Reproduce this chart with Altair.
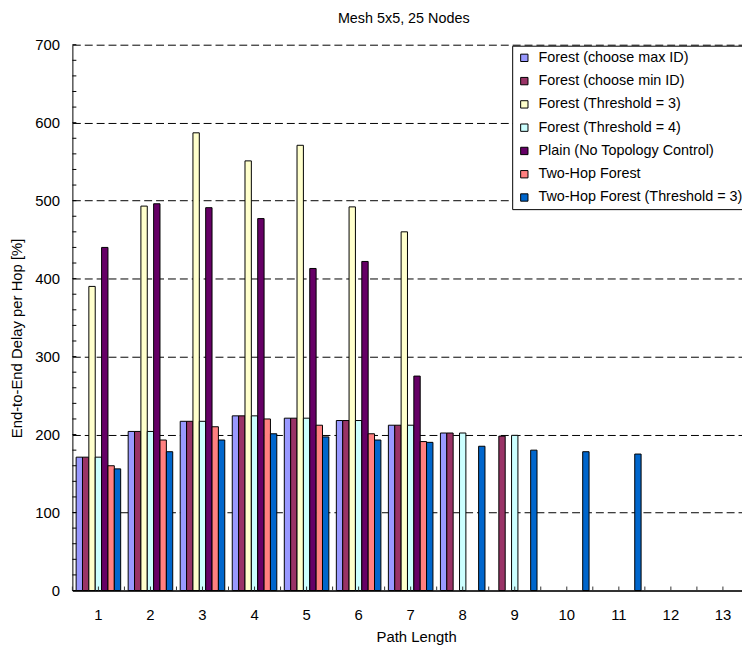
import altair as alt
import pandas as pd

# ---- data ----
path_lengths = [1, 2, 3, 4, 5, 6, 7, 8, 9, 10, 11, 12, 13]

series_names = [
    "Forest (choose max ID)",
    "Forest (choose min ID)",
    "Forest (Threshold = 3)",
    "Forest (Threshold = 4)",
    "Plain (No Topology Control)",
    "Two-Hop Forest",
    "Two-Hop Forest (Threshold = 3)",
]
series_colors = ["#9999FF", "#993366", "#FFFFCC", "#CCFFFF", "#660066", "#FF8080", "#0066CC"]

forest_max_id = [171, 204, 217, 224, 221, 218, 212, 202, None, None, None, None, None]
forest_min_id = [171, 204, 217, 224, 221, 218, 212, 202, 198, None, None, None, None]
forest_thr3 = [390, 493, 587, 551, 571, 492, 460, None, None, None, None, None, None]
forest_thr4 = [171, 204, 217, 224, 221, 218, 212, 202, 199, None, None, None, None]
plain = [440, 496, 491, 477, 413, 422, 275, None, None, None, None, None, None]
two_hop = [160, 193, 210, 220, 212, 201, 191, None, None, None, None, None, None]
two_hop_thr3 = [156, 178, 193, 201, 197, 193, 190, 185, 180, 178, 175, None, None]

y_label_values = [0, 100, 200, 300, 400, 500, 600, 700]
y_minor_ticks = list(range(0, 701, 20))

series_values = [forest_max_id, forest_min_id, forest_thr3, forest_thr4, plain, two_hop, two_hop_thr3]

rows = []
for name, vals in zip(series_names, series_values):
    for pl, v in zip(path_lengths, vals):
        if v is not None:
            rows.append({"len": pl, "series": name, "delay": v})
df = pd.DataFrame(rows)

FONT = "Liberation Sans"

x_scale = alt.Scale(domain=path_lengths, paddingInner=0, paddingOuter=0)
y_scale = alt.Scale(domain=[0, 700], nice=False)

x_axis = alt.Axis(
    title="Path Length",
    labelAngle=0,
    ticks=False,
    tickSize=0,
    grid=False,
    labelPadding=17,
    labelFontSize=15,
    labelColor="black",
    domainColor="#333333",
    domainWidth=2,
    titleFontSize=15,
    titleFontWeight="normal",
    titleColor="black",
    titlePadding=7,
    titleX=347,
)
y_axis = alt.Axis(
    values=y_label_values,
    title="End-to-End Delay per Hop [%]",
    grid=True,
    gridDash=[8, 4],
    gridColor="black",
    gridWidth=1,
    ticks=False,
    tickSize=0,
    labelPadding=13,
    labelFontSize=15,
    labelColor="black",
    domainColor="black",
    titleFontSize=15,
    titleFontWeight="normal",
    titleColor="black",
    titleX=-56,
    titleY=296,
    titleBaseline="middle",
    titleAngle=270,
)

bars = alt.Chart(df).mark_bar(stroke="black", strokeWidth=1).encode(
    x=alt.X("len:O", scale=x_scale, axis=x_axis),
    xOffset=alt.XOffset(
        "series:N",
        sort=series_names,
        scale=alt.Scale(domain=series_names, paddingInner=0, paddingOuter=0.588),
    ),
    y=alt.Y("delay:Q", scale=y_scale, axis=y_axis),
    color=alt.Color(
        "series:N",
        sort=series_names,
        scale=alt.Scale(domain=series_names, range=series_colors),
        legend=alt.Legend(
            title=None,
            orient="none",
            legendX=444,
            legendY=1,
            direction="vertical",
            fillColor="white",
            strokeColor="black",
            padding=5,
            symbolType="square",
            symbolSize=55,
            symbolStrokeColor="black",
            symbolStrokeWidth=1,
            labelFontSize=14.5,
            labelColor="black",
            labelLimit=400,
            rowPadding=8.5,
            labelOffset=7,
        ),
    ),
)

tick_df = pd.DataFrame({"len": path_lengths})
x_ticks_center = alt.Chart(tick_df).mark_rule(color="#333333").encode(
    x=alt.X("len:O", bandPosition=0.5, scale=x_scale, axis=x_axis),
    y=alt.value(547),
    y2=alt.value(551),
)
x_ticks_edge = alt.Chart(tick_df).mark_rule(color="#333333").encode(
    x=alt.X("len:O", bandPosition=0, scale=x_scale, axis=x_axis),
    y=alt.value(547),
    y2=alt.value(551),
)

ytick_df = pd.DataFrame({"delay": y_minor_ticks})
y_ticks = alt.Chart(ytick_df).mark_rule(color="black").encode(
    y=alt.Y("delay:Q", scale=y_scale, axis=y_axis),
    x=alt.value(0),
    x2=alt.value(4),
)

chart = (
    alt.layer(bars, x_ticks_center, x_ticks_edge, y_ticks)
    .properties(
        width=683,
        height=551,
        autosize=alt.AutoSizeParams(type="none"),
        padding={"left": 65, "top": 34, "right": -7, "bottom": 56},
        title=alt.TitleParams(
            text="Mesh 5x5, 25 Nodes",
            fontSize=14.5,
            fontWeight="normal",
            color="black",
            anchor="middle",
            frame="group",
            offset=11,
            dx=-7,
        ),
    )
    .configure(font=FONT, background="white")
    .configure_view(stroke="transparent")
)

chart.save("out.html", embed_options={"renderer": "svg", "actions": False})
